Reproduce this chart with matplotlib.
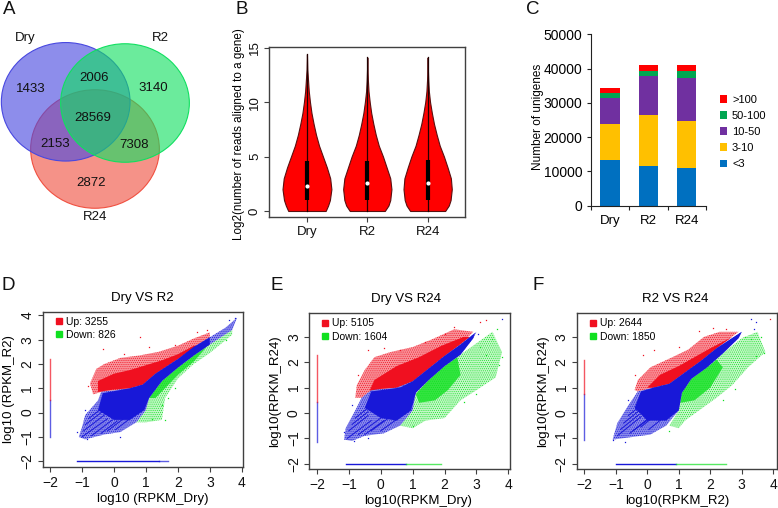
import matplotlib
matplotlib.use("Agg")
import matplotlib.pyplot as plt
from matplotlib.patches import Ellipse

# values
venn_labels = ["Dry", "R2", "R24"]
venn_counts = [1433, 3140, 2872, 2006, 2153, 7308, 28569]

samples = ["Dry", "R2", "R24"]

# violin outline: log2 level and half width (in category units)
violin_levels = [0, 0.5, 1, 2, 3, 4, 5, 6, 7, 8, 9, 10, 11, 12, 13]
violin_dry_w = [0.31, 0.35, 0.38, 0.405, 0.385, 0.33, 0.265, 0.20, 0.15, 0.11, 0.075, 0.05, 0.03, 0.018, 0.006]
violin_r2_w = [0.29, 0.35, 0.38, 0.40, 0.38, 0.32, 0.26, 0.19, 0.14, 0.10, 0.065, 0.04, 0.02, 0.01, 0.004]
violin_r24_w = [0.29, 0.35, 0.38, 0.40, 0.385, 0.33, 0.27, 0.20, 0.15, 0.105, 0.07, 0.04, 0.02, 0.01, 0.004]
violin_top = [14.4, 14.1, 14.1]
violin_q1 = [1.0, 1.0, 1.0]
violin_q3 = [4.6, 4.6, 4.7]
violin_med = [2.3, 2.6, 2.6]

bar_groups = ["<3", "3-10", "10-50", "50-100", ">100"]
bar_colors = ["#0070c0", "#ffc000", "#7030a0", "#00a651", "#ff0000"]
bar_lt3 = [13300, 11600, 10900]
bar_3_10 = [10500, 14800, 13800]
bar_10_50 = [7600, 11300, 12600]
bar_50_100 = [1400, 1700, 1900]
bar_gt100 = [1400, 1600, 1700]

# scatter clouds are read as outlines (x, y) plus a few stray points
d_red_sparse = [(-0.65, 0.75), (-0.75, 1.2), (-0.55, 1.8), (-0.3, 2.0), (0.2, 2.25), (0.8, 2.35), (1.4, 2.5), (2, 2.75), (2.5, 3.05), (3.0, 3.3), (3.0, 3.1), (2.5, 2.7), (2, 2.2), (1.3, 1.6), (0.9, 1.15), (0.5, 1.0), (-0.4, 0.85)]
d_red_dense = [(-0.5, 0.85), (-0.5, 1.3), (0, 1.6), (0.5, 1.75), (1, 1.95), (1.5, 2.15), (2, 2.4), (2.5, 2.75), (2.6, 2.75), (2, 2.2), (1.3, 1.6), (0.9, 1.15), (0.5, 1.0), (0, 0.95)]
d_blue_sparse = [(-1.1, -1.0), (-1.0, -0.6), (-0.9, -0.1), (-0.5, 0.5), (-0.4, 0.85), (0.5, 1.0), (0.9, 1.15), (1.3, 1.6), (2, 2.2), (2.5, 2.7), (3.0, 3.1), (3.5, 3.5), (3.85, 3.9), (3.7, 3.4), (3.0, 2.8), (2.5, 2.35), (2, 1.85), (1.5, 1.3), (1.1, 0.6), (1.0, 0.1), (0.7, -0.4), (0.2, -0.8), (-0.3, -0.9), (-0.9, -1.1)]
d_blue_dense = [(-0.5, 0.1), (-0.35, 0.8), (0.5, 1.0), (0.9, 1.15), (1.3, 1.6), (2, 2.2), (2.5, 2.7), (3.0, 3.1), (3.0, 2.8), (2.5, 2.35), (2, 1.85), (1.5, 1.3), (1.1, 0.6), (0.95, 0.1), (0.5, -0.3), (0, -0.3)]
d_green_sparse = [(0.7, -0.4), (1, 0.1), (1.1, 0.6), (1.5, 1.3), (2, 1.85), (2.5, 2.35), (3, 2.8), (3.7, 3.4), (3.7, 3.2), (3.0, 2.45), (2.5, 2.0), (2.0, 1.4), (1.6, 0.6), (1.5, -0.3), (1.0, -0.4)]
d_green_dense = [(1.1, 0.6), (1.5, 1.3), (2, 1.85), (2.5, 2.35), (2.9, 2.7), (2.5, 2.1), (2, 1.55), (1.6, 1.0), (1.3, 0.6)]
d_streaks = [(-1.0, -1.0, -0.2, -0.25), (-0.95, -0.75, -0.3, -0.1), (-0.9, -0.5, -0.35, 0.05), (-0.8, -0.25, -0.35, 0.2), (-0.7, -0.95, -0.05, -0.3), (-0.4, -0.85, 0.1, -0.35), (-0.2, -0.75, 0.3, -0.25), (0.05, -0.7, 0.5, -0.25)]
d_left = (-1.0, 0.5, 2.2)
d_bottom = (-1.15, 1.4, 1.7)
d_stray_red = [(-0.35, 2.6), (0.8, 3.1), (2.6, 3.3), (2.9, 3.4), (0.3, 2.4), (-0.8, 1.1), (1.9, 2.8), (1.1, 2.7)]
d_stray_green = [(1.6, -0.3), (1.7, 0.6), (1.5, 0.3), (3.5, 3.0), (1.2, -0.25), (1.9, 1.0)]
d_stray_blue = [(-1.15, -0.8), (-0.85, -1.1), (3.6, 3.8), (3.8, 3.9), (-0.9, 0.1), (0.2, -1.0)]

e_red_sparse = [(-0.8, 0.6), (-0.75, 1.1), (-0.5, 1.7), (-0.2, 2.2), (0.3, 2.4), (1, 2.6), (1.6, 2.9), (2.3, 3.3), (2.9, 3.2), (2.5, 2.7), (2, 2.25), (1.5, 1.75), (1, 1.25), (0.5, 1.0), (-0.3, 0.9), (-0.6, 0.6)]
e_red_dense = [(-0.35, 0.88), (-0.2, 1.3), (0.5, 1.85), (1.2, 2.2), (1.9, 2.65), (2.6, 3.0), (2.8, 3.0), (2, 2.25), (1.5, 1.75), (1, 1.25), (0.5, 1), (0, 0.95)]
e_blue_sparse = [(-1.15, -1.05), (-1.1, -0.6), (-0.8, 0.1), (-0.6, 0.6), (-0.3, 0.9), (0.5, 1.0), (1, 1.25), (1.5, 1.75), (2, 2.25), (2.5, 2.7), (3, 3.2), (2.9, 2.95), (2.5, 2.3), (2, 1.85), (1.5, 1.3), (1.1, 0.8), (1, 0.1), (0.6, -0.5), (0.1, -0.8), (-0.5, -0.9), (-0.9, -1.1)]
e_blue_dense = [(-0.5, 0.2), (-0.3, 0.85), (0.6, 1), (1, 1.25), (1.5, 1.75), (2, 2.25), (2.5, 2.7), (2.95, 3.15), (2.9, 2.95), (2.5, 2.3), (2, 1.85), (1.5, 1.3), (1.1, 0.8), (0.95, 0.1), (0.5, -0.3), (0, -0.2)]
e_green_sparse = [(0.6, -0.5), (1, 0.1), (1.1, 0.8), (1.5, 1.3), (2, 1.85), (2.5, 2.3), (3, 2.75), (3.5, 3.2), (3.8, 2.4), (3.6, 1.4), (3, 0.9), (2.5, 0.5), (2, -0.2), (1.4, -0.3), (1, -0.6)]
e_green_dense = [(1.1, 0.75), (1.5, 1.3), (2, 1.85), (2.4, 2.2), (2.5, 1.5), (2.1, 0.9), (1.7, 0.5), (1.2, 0.4)]
e_streaks = [(-1.05, -1.0, -0.3, -0.3), (-1.0, -0.7, -0.4, -0.1), (-0.9, -0.45, -0.4, 0.05), (-0.8, -0.2, -0.4, 0.2), (-0.7, -0.85, 0, -0.2), (-0.5, -0.85, 0.1, -0.3), (-0.3, -0.7, 0.3, -0.15), (0, -0.7, 0.5, -0.25)]
e_left = (-1.15, 0.45, 2.3)
e_bottom = (-1.1, 0.8, 1.9)
e_stray_red = [(-0.4, 2.5), (0.1, 2.55), (2.3, 3.4), (3.1, 3.6), (3.3, 3.65), (0.6, 2.5), (-0.7, 1.5), (1.4, 2.8), (2.0, 3.1)]
e_stray_green = [(3.65, 3.3), (3.8, 2.2), (3.5, 2.9), (3.3, 2.3), (3.0, 0.75), (2.6, 0.45), (1.0, -0.5), (3.7, 1.9), (3.1, 2.6)]
e_stray_blue = [(-1.15, -0.75), (-0.85, -1.1), (3.8, 3.7), (-0.9, 0.3), (3.05, 3.1), (-0.4, -1.0)]

f_red_sparse = [(-0.4, 0.9), (-0.3, 1.3), (0.1, 1.8), (0.8, 2.2), (1.3, 2.5), (1.8, 3.0), (2.3, 3.2), (2.9, 3.2), (2.2, 2.55), (1.7, 2.05), (1.2, 1.6), (0.7, 1.15), (0.2, 1.0), (-0.3, 0.85)]
f_red_dense = [(0, 1.0), (0.4, 1.5), (1, 1.85), (1.5, 2.2), (2, 2.55), (2.7, 3.0), (2.2, 2.55), (1.7, 2.05), (1.2, 1.6), (0.7, 1.15), (0.2, 1.0)]
f_blue_sparse = [(-1.1, -1.05), (-0.95, -0.4), (-0.6, 0.3), (-0.3, 0.85), (0.2, 1.0), (0.7, 1.15), (1.2, 1.6), (1.7, 2.05), (2.2, 2.55), (3, 3.2), (2.9, 2.95), (2.4, 2.35), (1.9, 1.8), (1.4, 1.35), (1.1, 0.8), (1, 0.1), (0.6, -0.5), (0.1, -0.85), (-0.5, -0.95)]
f_blue_dense = [(-0.4, 0.2), (-0.2, 0.85), (0.2, 1.0), (0.7, 1.15), (1.2, 1.6), (1.7, 2.05), (2.2, 2.55), (3, 3.2), (2.9, 2.95), (2.4, 2.35), (1.9, 1.8), (1.4, 1.35), (1.1, 0.8), (1, 0.1), (0.6, -0.3), (0, -0.3)]
f_green_sparse = [(0.7, -0.5), (1, 0.1), (1.1, 0.8), (1.4, 1.35), (1.9, 1.8), (2.4, 2.35), (3, 2.95), (3.5, 3.2), (3.75, 2.4), (3.2, 1.8), (2.7, 1.1), (2.2, 0.6), (1.7, 0.15), (1.2, -0.3), (1, -0.6)]
f_green_dense = [(1.05, 0.4), (1.1, 0.8), (1.4, 1.35), (1.9, 1.8), (2.2, 2.1), (2.4, 1.8), (2, 1.0), (1.5, 0.5)]
f_streaks = [(-0.95, -0.9, -0.2, -0.15), (-0.85, -0.65, -0.25, -0.05), (-0.75, -0.4, -0.25, 0.1), (-0.6, -0.1, -0.2, 0.3), (-0.55, -0.8, 0.05, -0.2), (-0.45, -0.7, 0.1, -0.2), (-0.2, -0.55, 0.3, -0.05), (0.05, -0.65, 0.5, -0.2)]
f_left = (-1.05, 0.75, 2.1)
f_bottom = (-1.0, 0.9, 2.5)
f_stray_red = [(0.2, 2.5), (-0.15, 2.3), (1.65, 3.25), (2.1, 3.35), (2.5, 3.3), (-0.4, 1.5), (1.0, 2.6), (3.9, 3.7)]
f_stray_green = [(3.7, 2.35), (3.6, 3.0), (3.3, 2.9), (3.1, 3.0), (2.8, 0.95), (0.7, -0.7), (2.4, 0.5), (3.45, 2.25)]
f_stray_blue = [(-1.1, -1.05), (-0.7, -1.15), (3.3, 3.7), (3.45, 3.6), (-0.6, 0.5), (3.4, 3.3)]

RED, GREEN, BLUE = "#f01020", "#10e020", "#1818d8"
DARK = "#404040"
W, H = 778, 508

plt.rcParams["font.family"] = ["Liberation Sans", "DejaVu Sans"]
plt.rcParams["font.size"] = 9.5
plt.rcParams["hatch.linewidth"] = 0.4


def box(left, top, right, bottom):
    # pixel box of the reference to figure fractions
    return [left / W, 1 - bottom / H, (right - left) / W, (bottom - top) / H]


def xy(points):
    return [p[0] for p in points], [p[1] for p in points]


def r_style(ax, size):
    for s in ax.spines.values():
        s.set_color(DARK)
        s.set_linewidth(1.0)
    ax.tick_params(colors="#111111", color=DARK, length=3.5, width=0.8, pad=2.5, labelsize=size)
    for lab in ax.get_yticklabels():
        lab.set_rotation(90)
        lab.set_va("center")


def sparse(ax, points, color, alpha):
    # thin dots over a light wash, the cloud thins out towards its rim
    ax.fill(*xy(points), facecolor=matplotlib.colors.to_rgba(color, alpha), lw=0)
    ax.fill(*xy(points), facecolor="none", edgecolor=color, hatch="........", lw=0)


def scatter_panel(rect, lims, title, title_x, xlabel, xlabel_x, ylabel, yticks, up, down, red, blue, green, streaks, left, bottom, tail_color, stray):
    ax = fig.add_axes(box(*rect))
    ax.set_xlim(lims[0], lims[1])
    ax.set_ylim(lims[2], lims[3])
    red_s, red_d = red
    blue_s, blue_d = blue
    green_s, green_d = green

    sparse(ax, green_s, GREEN, 0.25)
    ax.fill(*xy(green_d), color=GREEN, alpha=0.8, lw=0)
    sparse(ax, red_s, RED, 0.45)
    ax.fill(*xy(red_d), color=RED, lw=0)
    sparse(ax, blue_s, BLUE, 0.5)
    ax.fill(*xy(blue_d), color=BLUE, lw=0)
    for x0, y0, x1, y1 in streaks:
        ax.plot([x0, x1], [y0, y1], color=BLUE, lw=0.7)

    # the two columns of genes with zero reads in one sample
    ax.plot([-2, -2], [left[0], left[1]], color=BLUE, lw=1.0, alpha=0.7)
    ax.plot([-2, -2], [left[1], left[2]], color=RED, lw=1.0, alpha=0.7)
    ax.plot([bottom[0], bottom[1]], [-2, -2], color=BLUE, lw=1.0)
    ax.plot([bottom[1], bottom[2]], [-2, -2], color=tail_color, lw=1.0, alpha=0.7)

    for pts, c in zip(stray, [RED, GREEN, BLUE]):
        ax.plot(*xy(pts), ls="none", marker="s", ms=0.9, mew=0, color=c)

    ax.set_xticks(range(-2, 5))
    ax.set_yticks(yticks)
    ax.set_title(title, fontsize=9.5, pad=8, x=title_x)
    ax.set_xlabel(xlabel, fontsize=9.5, labelpad=2.5, x=xlabel_x)
    ax.set_ylabel(ylabel, fontsize=9.5, labelpad=4)
    r_style(ax, 10)

    h = [plt.Line2D([], [], ls="none", marker="s", ms=4.3, color=RED),
         plt.Line2D([], [], ls="none", marker="s", ms=4.3, color=GREEN)]
    ax.legend(h, [f"Up: {up}", f"Down: {down}"], loc="upper left", frameon=False,
              fontsize=7.5, handlelength=1.1, handletextpad=0.1, labelspacing=0.3,
              borderaxespad=0, borderpad=0, bbox_to_anchor=(0.052, 0.967))
    return ax


fig = plt.figure(figsize=(W / 100, H / 100), dpi=100)

# whole figure overlay in reference pixels: venn and panel letters
bg = fig.add_axes([0, 0, 1, 1])
bg.set_xlim(0, W)
bg.set_ylim(H, 0)
bg.axis("off")

for cx, cy, c in [(95, 149, "#f05040"), (65.7, 101.8, "#4848e0"), (125, 103, "#10e060")]:
    bg.add_patch(Ellipse((cx, cy), 128.7, 118.5, facecolor=c, edgecolor="none", alpha=0.62))
    bg.add_patch(Ellipse((cx, cy), 128.7, 118.5, facecolor="none", edgecolor=c, lw=0.8))

count_pos = [(31, 89), (153, 88), (91, 183), (94, 78), (55, 144), (134, 145), (93, 118)]
for v, (x, y) in zip(venn_counts, count_pos):
    bg.text(x, y, str(v), ha="center", va="center", fontsize=9.5, color="#111111")
for lab, (x, y) in zip(venn_labels, [(25, 38), (160, 38), (95, 217)]):
    bg.text(x, y, lab, ha="center", va="center", fontsize=9.5, color="#111111")

letters = ["A", "B", "C", "D", "E", "F"]
letter_pos = [(9, 10), (242, 10), (533, 10), (8, 285), (277, 285), (538, 285)]
for lab, (x, y) in zip(letters, letter_pos):
    bg.text(x, y, lab, ha="center", va="center", fontsize=13.5, color="#111111")

# violins
ax_b = fig.add_axes(box(269.3, 46.7, 465.3, 217.3))
ax_b.set_xlim(0.376, 3.624)
ax_b.set_ylim(-0.58, 15.09)
for i, widths in enumerate([violin_dry_w, violin_r2_w, violin_r24_w]):
    pos = i + 1
    levels = violin_levels + [violin_top[i]]
    w = widths + [0]
    ax_b.fill_betweenx(levels, [pos - a for a in w], [pos + a for a in w],
                       facecolor="#ff0000", edgecolor="#5a1010", lw=0.8)
    ax_b.plot([pos, pos], [0, violin_top[i]], color="#200000", lw=0.9)
    ax_b.plot([pos, pos], [violin_q1[i], violin_q3[i]], color="black", lw=3, solid_capstyle="butt")
    ax_b.plot(pos, violin_med[i], "o", color="white", ms=3, mew=0)
ax_b.set_xticks([1, 2, 3], samples)
ax_b.set_yticks([0, 5, 10, 15])
ax_b.set_ylabel("Log2(number of reads aligned to a gene)", fontsize=8.4, labelpad=3, y=0.49)
r_style(ax_b, 9.5)

# stacked bars
ax_c = fig.add_axes(box(590.7, 34.3, 706, 205.7))
bottoms = [0, 0, 0]
for name, col, vals in zip(bar_groups, bar_colors, [bar_lt3, bar_3_10, bar_10_50, bar_50_100, bar_gt100]):
    ax_c.bar(range(3), vals, 0.5, bottom=bottoms, color=col, label=name)
    bottoms = [b + v for b, v in zip(bottoms, vals)]
ax_c.set_xlim(-0.5, 2.5)
ax_c.set_ylim(0, 50000)
ax_c.set_xticks([-0.5, 0.5, 1.5, 2.5], [])
ax_c.set_xticks([0, 1, 2], samples, minor=True)
ax_c.tick_params(axis="x", which="minor", length=0, labelsize=9.5, pad=7)
ax_c.tick_params(axis="x", which="major", length=3, width=0.8, color="#222222")
ax_c.set_yticks(range(0, 50001, 10000))
ax_c.tick_params(axis="y", length=3, width=0.8, labelsize=10, pad=3, color="#222222")
ax_c.spines[["top", "right"]].set_visible(False)
ax_c.spines["left"].set_color("#222222")
ax_c.spines["bottom"].set_color("#222222")
ax_c.set_ylabel("Number of unigenes", fontsize=8.5, labelpad=-0.5, y=0.52)
hs, ls = ax_c.get_legend_handles_labels()
ax_c.legend(hs[::-1], ls[::-1], loc="center left", bbox_to_anchor=(1.12, 0.43), frameon=False,
            fontsize=8, handlelength=0.65, handleheight=0.65, handletextpad=0.45,
            labelspacing=0.55, borderaxespad=0, borderpad=0)

scatter_panel((42.7, 311.7, 242.7, 467.3), (-2.23, 4.03, -2.25, 4.15), "Dry VS R2", 0.5,
              "log10 (RPKM_Dry)", 0.55, "log10 (RPKM_R2)", range(-2, 5), 3255, 826,
              (d_red_sparse, d_red_dense), (d_blue_sparse, d_blue_dense), (d_green_sparse, d_green_dense),
              d_streaks, d_left, d_bottom, BLUE, (d_stray_red, d_stray_green, d_stray_blue))
scatter_panel((309.3, 313.3, 510, 469.3), (-2.24, 4.05, -2.22, 3.93), "Dry VS R24", 0.48,
              "log10(RPKM_Dry)", 0.54, "log10(RPKM_R24)", range(-2, 4), 5105, 1604,
              (e_red_sparse, e_red_dense), (e_blue_sparse, e_blue_dense), (e_green_sparse, e_green_dense),
              e_streaks, e_left, e_bottom, GREEN, (e_stray_red, e_stray_green, e_stray_blue))
scatter_panel((577, 313.3, 776.7, 469.3), (-2.23, 4.11, -2.22, 3.93), "R2 VS R24", 0.49,
              "log10(RPKM_R2)", 0.5, "log10(RPKM_R24)", range(-2, 4), 2644, 1850,
              (f_red_sparse, f_red_dense), (f_blue_sparse, f_blue_dense), (f_green_sparse, f_green_dense),
              f_streaks, f_left, f_bottom, GREEN, (f_stray_red, f_stray_green, f_stray_blue))

fig.savefig("out.png", dpi=100)
plt.close(fig)
